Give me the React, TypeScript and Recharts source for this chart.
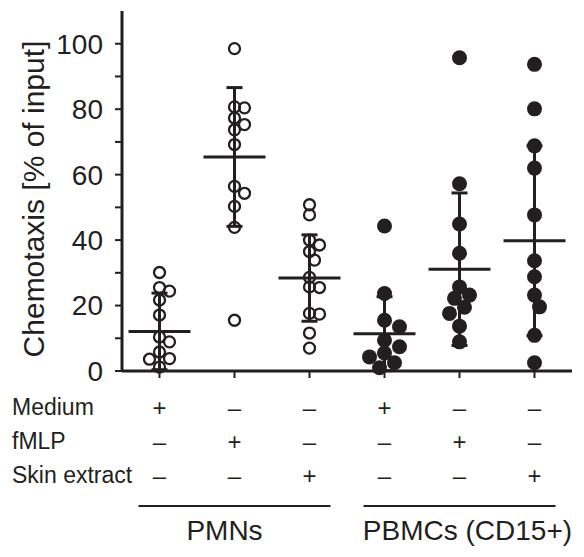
import { ComposedChart, Scatter, XAxis, YAxis, ErrorBar } from 'recharts';

const groups = ['PMN medium', 'PMN fMLP', 'PMN skin extract', 'PBMC medium', 'PBMC fMLP', 'PBMC skin extract'];

const pmnMedium = [30.1, 25.5, 24.4, 21.7, 17.1, 10.4, 8.9, 5.8, 3.8, 3.6, 1.2];
const pmnFmlp = [98.5, 80.7, 80.4, 77.3, 75.3, 73.7, 69.2, 56.4, 54.3, 50.3, 43.9, 15.5];
const pmnSkin = [50.8, 47.7, 40.0, 38.5, 36.5, 33.9, 28.6, 25.7, 25.5, 17.6, 17.4, 11.6, 7.0];
const pbmcMedium = [44.3, 23.7, 15.5, 13.5, 9.4, 7.4, 5.5, 4.3, 2.5, 1.0];
const pbmcFmlp = [95.7, 57.2, 44.9, 36.0, 25.7, 23.2, 22.2, 19.5, 17.6, 13.7, 8.9];
const pbmcSkin = [93.7, 80.1, 68.8, 62.0, 47.7, 33.7, 28.8, 23.2, 19.6, 10.9, 2.5];

const means = [12.1, 65.4, 28.4, 11.4, 31.1, 39.8];
const sds = [11.7, 21.2, 13.2, 11.3, 23.3, 29.0];

const medium = ['+', '–', '–', '+', '–', '–'];
const fmlp = ['–', '+', '–', '–', '+', '–'];
const skin = ['–', '–', '+', '–', '–', '+'];
const rowLabels = ['Medium', 'fMLP', 'Skin extract'];
const cellTypes = ['PMNs', 'PBMCs (CD15+)'];

const yTicks = [0, 10, 20, 30, 40, 50, 60, 70, 80, 90, 100];
const xTicks = [0.5, 1.5, 2.5, 3.5, 4.5, 5.5];

const INK = '#231f20';
const W = 584;
const H = 557;
const PX_X = 75; // px per category
const PX_Y = 3.27; // px per % unit

// simple beeswarm so overlapping dots spread sideways
function swarm(values: number[], gi: number, minDist: number) {
  const placed: { dx: number; py: number }[] = [];
  return values.map((v) => {
    const py = v * PX_Y;
    let dx = 0;
    for (let k = 0; k < 20; k++) {
      const cand = k === 0 ? 0 : (k % 2 ? 1 : -1) * Math.ceil(k / 2) * 5;
      const ok = placed.every((p) => Math.hypot(p.dx - cand, p.py - py) >= minDist);
      if (ok) {
        dx = cand;
        break;
      }
    }
    placed.push({ dx, py });
    return { x: gi + 0.5 + dx / PX_X, y: v };
  });
}

const openData = [pmnMedium, pmnFmlp, pmnSkin].flatMap((vals, i) => swarm(vals, i, 9));
const filledData = [pbmcMedium, pbmcFmlp, pbmcSkin].flatMap((vals, i) => swarm(vals, i + 3, 12));
const summary = groups.map((g, i) => ({ name: g, x: i + 0.5, y: means[i], sd: sds[i] }));

const ROW_Y = [407, 441, 475];

function TableTick(props: any) {
  const { x, payload } = props;
  const i = Math.floor(payload.value);
  const rows = [medium, fmlp, skin];
  return (
    <g>
      {rows.map((r, ri) => (
        <text key={ri} x={x} y={ROW_Y[ri]} textAnchor="middle" dominantBaseline="central" fontSize={24} fill={INK}>
          {r[i]}
        </text>
      ))}
      {i === 0 &&
        rowLabels.map((l, ri) => (
          <text key={l} x={12} y={ROW_Y[ri]} dominantBaseline="central" fontSize={23} fill={INK}>
            {l}
          </text>
        ))}
      {(i === 1 || i === 4) && (
        <g>
          <line x1={x - 96} x2={x + 96} y1={506} y2={506} stroke={INK} strokeWidth={2} />
          <text x={i === 1 ? x - 10 : x + 8} y={540} textAnchor="middle" fontSize={28} fill={INK}>
            {cellTypes[i === 1 ? 0 : 1]}
          </text>
        </g>
      )}
    </g>
  );
}

const MeanLine = (p: any) => (
  <line x1={p.cx - 31} x2={p.cx + 31} y1={p.cy} y2={p.cy} stroke={INK} strokeWidth={3} />
);

const OpenDot = (p: any) => <circle cx={p.cx} cy={p.cy} r={5.5} fill="none" stroke={INK} strokeWidth={2.3} />;
const FilledDot = (p: any) => <circle cx={p.cx} cy={p.cy} r={7.5} fill={INK} />;

export default function App() {
  return (
    <div style={{ width: W, height: H, fontFamily: '"Liberation Sans", Arial, sans-serif', background: '#fff' }}>
      <style>{'body{margin:0}'}</style>
      <ComposedChart width={W} height={H} margin={{ top: 11, right: 12, left: 0, bottom: 0 }}>
        <XAxis
          type="number"
          dataKey="x"
          domain={[0, 6]}
          ticks={xTicks}
          height={186}
          axisLine={{ stroke: INK, strokeWidth: 3 }}
          tickLine={{ stroke: INK, strokeWidth: 2 }}
          tickSize={7}
          tick={<TableTick />}
          interval={0}
        />
        <YAxis
          type="number"
          dataKey="y"
          domain={[0, 110]}
          ticks={yTicks}
          width={122}
          interval={0}
          axisLine={{ stroke: INK, strokeWidth: 3 }}
          tickLine={{ stroke: INK, strokeWidth: 2 }}
          tickSize={7}
          tickMargin={12}
          tick={{ fill: INK, fontSize: 28 }}
          tickFormatter={(v: number) => (v % 20 === 0 ? String(v) : '')}
          label={{
            content: () => (
              <text
                x={33}
                y={199}
                transform="rotate(-90 33 199)"
                textAnchor="middle"
                dominantBaseline="central"
                fontSize={30}
                fill={INK}
              >
                Chemotaxis [% of input]
              </text>
            ),
          }}
        />
        <Scatter data={openData} shape={OpenDot} isAnimationActive={false} />
        <Scatter data={filledData} shape={FilledDot} isAnimationActive={false} />
        <Scatter data={summary} shape={MeanLine} isAnimationActive={false}>
          <ErrorBar dataKey="sd" direction="y" width={8} stroke={INK} strokeWidth={3} isAnimationActive={false} />
        </Scatter>
      </ComposedChart>
    </div>
  );
}
